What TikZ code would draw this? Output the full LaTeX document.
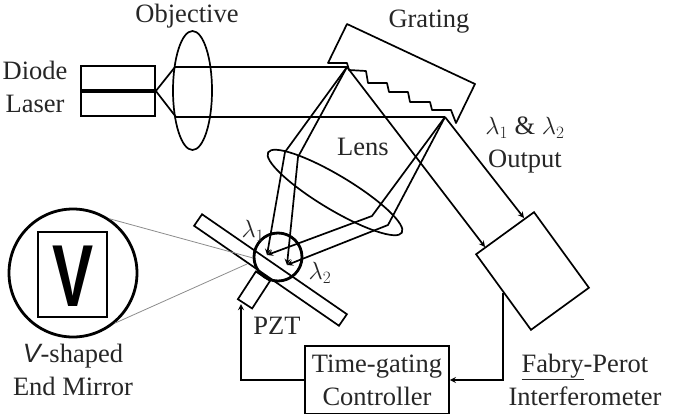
\documentclass[tikz,border=0pt]{standalone}
\usepackage{fontspec}
\setmainfont{Liberation Serif}
\setsansfont{Liberation Sans}
\usetikzlibrary{shapes.geometric, positioning, calc}

\begin{document}
\begin{tikzpicture}[x=1pt, y=-1pt]
  \newcommand\linew{1.7pt}
  \newcommand\thickw{2.8pt}

  \tikzset{ptr/.style={->, >=stealth, line width=\linew}}
  \tikzset{beam/.style={line width=\linew}}
  \tikzset{part/.style={draw, line width=\linew, inner sep=0pt}}
  \tikzset{partlens/.style={part, ellipse}}
  \tikzset{loupe/.style={draw, circle, line width=\thickw, inner sep=0pt}}
  \tikzset{sightline/.style={draw=black!45, line width=0.8pt}}
  \tikzset{lbl/.style={font=\fontsize{26.5}{33}\selectfont, text=black!85, align=center, inner sep=0pt}}

  \useasboundingbox (0, 0) rectangle (675, 413);

  % laser and objective
  \node[part, minimum width=74, minimum height=50] at (118, 91) (laser) {};
  \draw[line width=3.4pt] (laser.west) -- (laser.east);
  \node[partlens, minimum width=39, minimum height=119] at (192.5, 90.5) (objective) {};
  \node[lbl] at (35, 86.5) (diodelbl) {Diode\\Laser};
  \node[lbl] at (187, 16) (objectivelbl) {Objective};

  % grating, teeth go down the lower side
  \draw[beam, line join=round] (328, 63) -- (347, 24) -- (475, 84) -- (456, 123) -- (451, 110)
    -- (432, 110) -- (430, 102) -- (410, 102) -- (408, 92) -- (389, 92) -- (387, 83)
    -- (368, 83) -- (366, 71) -- (349, 70) -- (347, 63) -- cycle;
  \node[lbl] at (429, 22) (gratinglbl) {Grating};
  \coordinate (spota) at (347, 67);
  \coordinate (spotb) at (445, 117);

  % collimated beam
  \foreach \bend/\spot in {175/spota, 176/spotb}{
    \draw[beam] (laser.east) -- (\bend, 0 |- \spot) -- (\spot);
  }

  % lens and mirror
  \node[partlens, minimum width=156, minimum height=34, rotate=-31] at (335, 192.5) (lens) {};
  \node[lbl] at (363, 147) (lenslbl) {Lens};
  \node[part, minimum width=176, minimum height=14, rotate=-34.6] at (270.5, 270) (mirror) {};
  \node[part, minimum width=17, minimum height=33, rotate=-33] at (254, 290) (pzt) {};
  \node[lbl] at (277, 326) (pztlbl) {PZT};
  \node[loupe, minimum size=48] at (278, 257) (zoomspot) {};
  \node[lbl] at (253, 231) (lambdaa) {$\lambda_1$};
  \node[lbl] at (320, 273) (lambdab) {$\lambda_2$};

  % rays through the lens
  \coordinate (focusa) at (267, 255);
  \coordinate (focusb) at (287, 265);
  \foreach \spot/\bx/\by/\focus in {spota/285/152/focusa, spota/298/157/focusb, spotb/372/216/focusa, spotb/388/225/focusb}{
    \draw[ptr, line join=round] (\spot) -- (\bx, \by) -- (\focus);
  }

  % enlarged end mirror
  \node[loupe, minimum size=128] at (73, 273) (loupe) {};
  \node[part, minimum width=69, minimum height=85] at (72.5, 274.5) (vbox) {};
  \node[inner sep=0pt, xscale=0.7, font=\fontsize{88}{88}\sffamily\bfseries\selectfont] at (73, 276) (vglyph) {V};
  \coordinate (sighta) at (253, 258);
  \coordinate (sightb) at (247, 264);
  \draw[sightline] (loupe.56) -- (sighta);
  \draw[sightline] (loupe.-50) -- (sightb);
  \node[lbl] at (73, 369.5) (vlbl) {{\sffamily\itshape V}-shaped\\End Mirror};

  % output and interferometer
  \node[part, minimum width=71.6, minimum height=93.4, rotate=36] at (532.5, 271) (fabry) {};
  \coordinate (fabryina) at (485, 247);
  \coordinate (fabryinb) at (524, 218);
  \draw[ptr] (spota) -- (fabryina);
  \draw[ptr] (spotb) -- (fabryinb);
  \node[lbl] at (525, 145) (outputlbl) {$\lambda_1$ \& $\lambda_2$\\Output};
  \node[lbl] at (585, 380) (fabrylbl) {\underline{Fabry}-Perot\\Interferometer};

  % controller
  \node[part, lbl, minimum width=144, minimum height=68] at (377, 380) (ctrl) {Time-gating\\Controller};
  \coordinate (pztin) at (241, 304);
  \draw[ptr] (fabry.west) |- (ctrl.east);
  \draw[ptr] (ctrl.west) -| (pztin);
\end{tikzpicture}
\end{document}
